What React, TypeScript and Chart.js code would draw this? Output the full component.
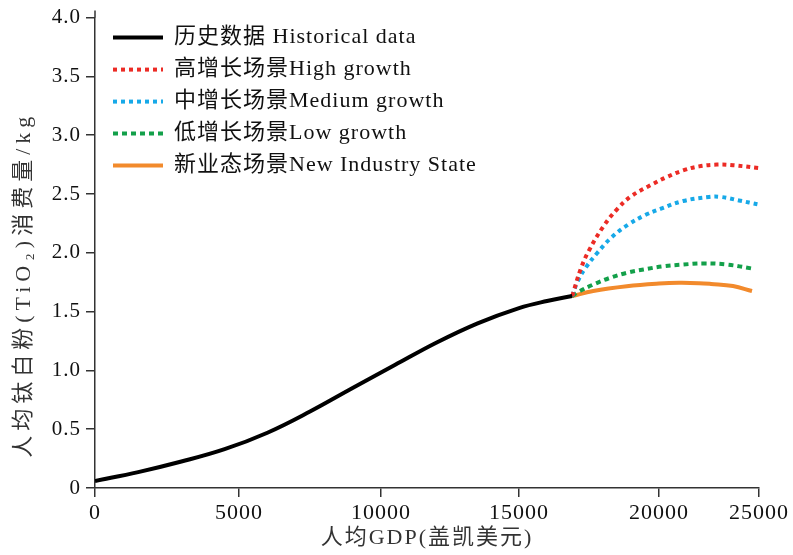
import React, { useEffect, useRef } from 'react';
import { Chart, registerables, LinearScale } from 'chart.js';

Chart.register(...registerables);

// ---------- data ----------
const SERIES_LABELS = [
  '历史数据 Historical data',
  '高增长场景High growth',
  '中增长场景Medium growth',
  '低增长场景Low growth',
  '新业态场景New Industry State',
];

const HIST_GDP = [0, 1500, 3000, 4500, 6000, 7500, 9000, 10500, 12000, 13500, 15000, 16000, 16900];
const HIST_VAL = [0.06, 0.135, 0.225, 0.33, 0.47, 0.65, 0.85, 1.045, 1.235, 1.4, 1.53, 1.59, 1.632];

const HIGH_GDP = [16900, 17200, 17500, 18000, 18500, 19000, 19700, 20400, 21200, 22000, 22900, 23700, 25000];
const HIGH_VAL = [1.632, 1.86, 2.02, 2.22, 2.37, 2.48, 2.575, 2.645, 2.7, 2.735, 2.75, 2.745, 2.72];

const MED_GDP = [16900, 17100, 17400, 17800, 18300, 18900, 19500, 20100, 21200, 22500, 23100, 24000, 25000];
const MED_VAL = [1.632, 1.76, 1.88, 2.0, 2.13, 2.24, 2.32, 2.375, 2.44, 2.475, 2.475, 2.445, 2.41];

const LOW_GDP = [16900, 17100, 17650, 18250, 18850, 19450, 20200, 21200, 22200, 23400, 24650];
const LOW_VAL = [1.632, 1.665, 1.73, 1.787, 1.83, 1.858, 1.885, 1.9, 1.91, 1.9, 1.866];

const NEW_GDP = [16900, 17650, 18850, 20000, 21000, 22000, 22600, 23700, 24650];
const NEW_VAL = [1.632, 1.675, 1.715, 1.738, 1.745, 1.742, 1.735, 1.717, 1.675];

const X_TICKS = [0, 5000, 10000, 15000, 20000, 25000];
const Y_TICKS = [0, 0.5, 1.0, 1.5, 2.0, 2.5, 3.0, 3.5, 4.0];

const X_TITLE = '人均GDP(盖凯美元)';
const Y_TITLE = '人均钛白粉(TiO₂)消费量/kg';

// ---------- piecewise x scale (the source axis is not evenly spaced) ----------
const KNOT_VALUES = [0, 5000, 10000, 15000, 20000, 25000];
const KNOT_FRACS = [0, 0.2169, 0.4307, 0.6386, 0.8494, 1];

function valueToFrac(v: number) {
  const n = KNOT_VALUES.length;
  if (v <= KNOT_VALUES[0]) {
    const s = (KNOT_FRACS[1] - KNOT_FRACS[0]) / (KNOT_VALUES[1] - KNOT_VALUES[0]);
    return KNOT_FRACS[0] + (v - KNOT_VALUES[0]) * s;
  }
  for (let i = 1; i < n; i++) {
    if (v <= KNOT_VALUES[i] || i === n - 1) {
      const t = (v - KNOT_VALUES[i - 1]) / (KNOT_VALUES[i] - KNOT_VALUES[i - 1]);
      return KNOT_FRACS[i - 1] + t * (KNOT_FRACS[i] - KNOT_FRACS[i - 1]);
    }
  }
  return 1;
}
function fracToValue(f: number) {
  const n = KNOT_FRACS.length;
  for (let i = 1; i < n; i++) {
    if (f <= KNOT_FRACS[i] || i === n - 1) {
      const t = (f - KNOT_FRACS[i - 1]) / (KNOT_FRACS[i] - KNOT_FRACS[i - 1]);
      return KNOT_VALUES[i - 1] + t * (KNOT_VALUES[i] - KNOT_VALUES[i - 1]);
    }
  }
  return KNOT_VALUES[n - 1];
}

class PiecewiseLinearScale extends LinearScale {
  static id = 'piecewiseLinear';
  static defaults = LinearScale.defaults;
  getPixelForValue(value: any) {
    if (value === null || value === undefined || isNaN(value)) return NaN;
    return this.getPixelForDecimal(valueToFrac(+value));
  }
  getValueForPixel(pixel: number) {
    return fracToValue(this.getDecimalForPixel(pixel));
  }
}
Chart.register(PiecewiseLinearScale as any);

// ---------- styling helpers ----------
const FONT = "'Liberation Serif', 'DejaVu Serif', 'Noto Sans CJK SC', serif";
const AXIS_COLOR = '#333';

function patch(target: any, method: string, spacing: string, dy = 0) {
  if (!target || target['__p_' + method]) return;
  const orig = target[method].bind(target);
  target[method] = function (...args: any[]) {
    const ctx = target.ctx;
    ctx.save();
    ctx.letterSpacing = spacing;
    if (dy) ctx.translate(0, dy);
    const r = orig(...args);
    ctx.restore();
    return r;
  };
  target['__p_' + method] = true;
}

const tweaks = {
  id: 'tweaks',
  beforeDraw(chart: any) {
    const { x, y } = chart.scales;
    patch(x, 'drawLabels', '1px');
    patch(y, 'drawLabels', '1px');
    patch(x, 'drawTitle', '2px');
    patch(y, 'drawTitle', '5px', 32);
    patch(chart.legend, 'draw', '1px');
    if (chart.legend) {
      chart.legend.left = chart.chartArea.left + 8;
      chart.legend.top = chart.chartArea.top - 1;
    }
  },
  afterDraw(chart: any) {
    const { ctx, chartArea } = chart;
    ctx.save();
    ctx.strokeStyle = AXIS_COLOR;
    ctx.lineWidth = 1.5;
    ctx.beginPath();
    ctx.moveTo(chartArea.left, chartArea.top);
    ctx.lineTo(chartArea.left, chartArea.top - 7);
    ctx.stroke();
    ctx.restore();
  },
};

const toPoints = (xs: number[], ys: number[]) => xs.map((x, i) => ({ x, y: ys[i] }));

function lineSet(label: string, data: any[], color: string, dash: number[]) {
  return {
    label,
    data,
    borderColor: color,
    backgroundColor: color,
    borderWidth: 4,
    borderDash: dash,
    borderCapStyle: 'butt',
    pointRadius: 0,
    pointHoverRadius: 0,
    fill: false,
    tension: 0.4,
  };
}

export default function App() {
  const ref = useRef<HTMLCanvasElement>(null);

  useEffect(() => {
    const canvas = ref.current;
    if (!canvas) return;
    const chart = new Chart(canvas, {
      type: 'line',
      data: {
        datasets: [
          lineSet(SERIES_LABELS[0], toPoints(HIST_GDP, HIST_VAL), '#000000', []),
          lineSet(SERIES_LABELS[1], toPoints(HIGH_GDP, HIGH_VAL), '#ec2b25', [4, 4]),
          lineSet(SERIES_LABELS[2], toPoints(MED_GDP, MED_VAL), '#17a9e8', [4, 4]),
          lineSet(SERIES_LABELS[3], toPoints(LOW_GDP, LOW_VAL), '#13a04a', [5, 4]),
          lineSet(SERIES_LABELS[4], toPoints(NEW_GDP, NEW_VAL), '#f28a2c', []),
        ] as any,
      },
      options: {
        responsive: false,
        animation: false,
        devicePixelRatio: 1,
        events: [],
        layout: { padding: { top: 15, right: 34, left: 0, bottom: 0 } },
        plugins: {
          legend: {
            position: 'chartArea' as any,
            align: 'start',
            labels: {
              usePointStyle: true,
              pointStyle: 'line',
              pointStyleWidth: 50,
              font: { family: FONT, size: 22 },
              color: '#111',
              padding: 10,
              generateLabels: (chart: any) => {
                const items = (Chart.defaults.plugins.legend.labels as any).generateLabels(chart);
                return items.map((it: any, i: number) => {
                  const ds: any = chart.data.datasets[i];
                  return {
                    ...it,
                    strokeStyle: ds.borderColor,
                    fillStyle: ds.borderColor,
                    lineWidth: 4,
                    lineDash: ds.borderDash,
                    lineCap: 'butt',
                    pointStyle: 'line',
                  };
                });
              },
            },
          },
          tooltip: { enabled: false },
        },
        scales: {
          x: {
            type: 'piecewiseLinear' as any,
            position: 'bottom',
            min: 0,
            max: 25000,
            afterFit: (s: any) => { s.height = 67; },
            afterBuildTicks: (s: any) => { s.ticks = X_TICKS.map((v) => ({ value: v })); },
            ticks: {
              autoSkip: false,
              maxRotation: 0,
              padding: 3,
              color: '#111',
              font: { family: FONT, size: 22 },
              callback: (v: any) => String(v),
            },
            grid: {
              display: true,
              drawOnChartArea: false,
              drawTicks: true,
              tickLength: 9,
              color: AXIS_COLOR,
              lineWidth: 1.5,
            },
            border: { display: true, color: AXIS_COLOR, width: 1.5 },
            title: {
              display: true,
              text: X_TITLE,
              color: '#333',
              font: { family: FONT, size: 22 },
              padding: { top: 0, bottom: 4 },
            },
          } as any,
          y: {
            type: 'linear',
            position: 'left',
            min: 0,
            max: 4,
            afterFit: (s: any) => { s.width = 95; },
            afterBuildTicks: (s: any) => { s.ticks = Y_TICKS.map((v) => ({ value: v })); },
            ticks: {
              padding: 5,
              color: '#111',
              font: { family: FONT, size: 21 },
              callback: (v: any) => (v === 0 ? '0' : Number(v).toFixed(1)),
            },
            grid: {
              display: true,
              drawOnChartArea: false,
              drawTicks: true,
              tickLength: 9,
              color: AXIS_COLOR,
              lineWidth: 1.5,
            },
            border: { display: true, color: AXIS_COLOR, width: 1.5 },
            title: {
              display: true,
              text: Y_TITLE,
              color: '#333',
              font: { family: FONT, size: 22 },
              padding: { top: 11, bottom: 0 },
            },
          },
        },
      },
      plugins: [tweaks],
    });
    return () => chart.destroy();
  }, []);

  return (
    <div style={{ position: 'absolute', left: 0, top: 0, width: 793, height: 555, background: '#fff' }}>
      <canvas ref={ref} width={793} height={555} style={{ display: 'block', width: 793, height: 555 }} />
    </div>
  );
}
